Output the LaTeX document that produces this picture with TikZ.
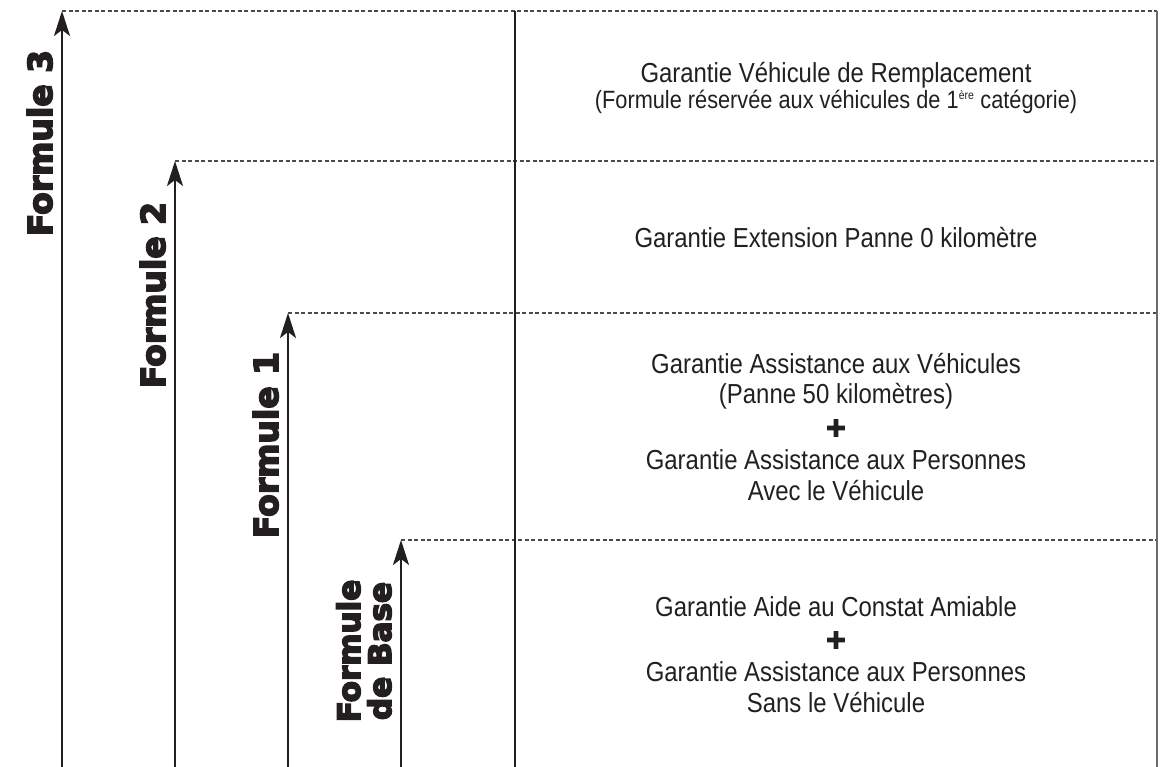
\documentclass[tikz,border=0pt]{standalone}
\usepackage{fontspec}
\setmainfont[FakeStretch=0.87]{Liberation Sans}
\newfontfamily\labelfont{DejaVu Sans Bold}
\newcommand\heavytext[1]{\special{pdf:literal direct 2 Tr 1.6 w}#1\special{pdf:literal direct 0 Tr}}
\usetikzlibrary{arrows.meta}
\definecolor{ink}{HTML}{231F20}
\definecolor{guidegray}{HTML}{4A4A4A}
\definecolor{edgegray}{HTML}{6A6A6A}
\begin{document}
\begin{tikzpicture}[x=1pt,y=-1pt,
  formarrow/.style={line width=2.2pt, draw=ink, -{Stealth[length=25pt,width=16pt,inset=6pt]}},
  guide/.style={draw=guidegray, line width=1.2pt, dash pattern=on 4pt off 2.5pt},
  divider/.style={line width=1.4pt, draw=ink},
  rightedge/.style={line width=1.7pt, draw=edgegray},
  garantie/.style={font=\fontsize{27.5}{31.5}\selectfont, text=ink, align=center, inner sep=0pt},
  formlabel/.style={font=\labelfont\fontsize{33}{33}\selectfont, rotate=90, anchor=base, inner sep=0pt, text=ink},
  baselabel/.style={formlabel, font=\labelfont\fontsize{31}{31}\selectfont},
  plus/.style={font=\labelfont\fontsize{26}{26}\selectfont, text=ink}
]
\useasboundingbox (0,0) rectangle (1163,767);

% coordinates
\coordinate (b3) at (62,767);  \coordinate (t3) at (62,11);  \coordinate (e3) at (1157,11);
\coordinate (b2) at (175,767); \coordinate (t2) at (175,161); \coordinate (e2) at (1157,161);
\coordinate (b1) at (288,767); \coordinate (t1) at (288,313); \coordinate (e1) at (1157,313);
\coordinate (b0) at (401,767); \coordinate (t0) at (401,540); \coordinate (e0) at (1157,540);
\coordinate (dtop) at (515,11); \coordinate (dbot) at (515,767);
\coordinate (rbot) at (1157,767);

% dashed guides
\draw[guide] (t3) -- (e3);
\draw[guide] (t2) -- (e2);
\draw[guide] (t1) -- (e1);
\draw[guide] (t0) -- (e0);

% verticals
\draw[divider] (dtop) -- (dbot);
\draw[rightedge] (e3) -- (rbot);

% arrows
\draw[formarrow] (b3) -- (t3);
\draw[formarrow] (b2) -- (t2);
\draw[formarrow] (b1) -- (t1);
\draw[formarrow] (b0) -- (t0);

% labels
\node[formlabel] (l3) at (52,143) {\heavytext{Formule 3}};
\node[formlabel] (l2) at (165,295) {\heavytext{Formule 2}};
\node[formlabel] (l1) at (278,445) {\heavytext{Formule 1}};
\node[baselabel] (l0a) at (360,651) {\heavytext{Formule}};
\node[baselabel] (l0b) at (391,651) {\heavytext{de Base}};

% guarantee texts
\node[garantie, font=\fontsize{27.5}{27}\selectfont] (g3a) at (836,75) {Garantie Véhicule de Remplacement};
\node[garantie, font=\fontsize{25}{27}\selectfont] (g3b) at (836,102) {(Formule réservée aux véhicules de 1\textsuperscript{\fontsize{12}{12}\selectfont ère} catégorie)};

\node[garantie] (g2) at (836,238) {Garantie Extension Panne 0 kilomètre};

\node[garantie] (g1a) at (836,364) {Garantie Assistance aux Véhicules};
\node[garantie] (g1b) at (836,396) {(Panne 50 kilomètres)};
\node[plus] (g1p) at (836,428) {\heavytext{+}};
\node[garantie] (g1c) at (836,460) {Garantie Assistance aux Personnes};
\node[garantie] (g1d) at (836,491) {Avec le Véhicule};

\node[garantie] (g0a) at (836,607) {Garantie Aide au Constat Amiable};
\node[plus] (g0p) at (836,640) {\heavytext{+}};
\node[garantie] (g0c) at (836,672) {Garantie Assistance aux Personnes};
\node[garantie] (g0d) at (836,703) {Sans le Véhicule};
\end{tikzpicture}
\end{document}
